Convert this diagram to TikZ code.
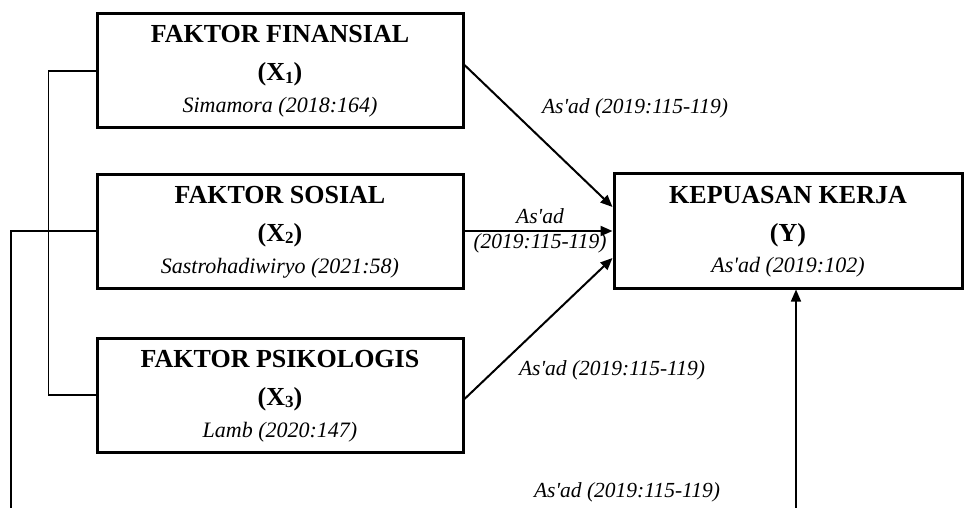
\documentclass[tikz,border=0pt]{standalone}
\usepackage{fontspec}
\setmainfont{Liberation Serif}
\usetikzlibrary{arrows.meta}
\newcommand{\subidx}[1]{\raisebox{-2.5pt}{\fontsize{17}{17}\selectfont #1}}
\newcommand{\apo}{\textquotesingle}
\tikzset{
  box/.style={draw, line width=3pt, minimum width=366pt, minimum height=114pt, inner sep=0pt},
  ttl/.style={font=\fontsize{26}{30}\selectfont\bfseries, anchor=base, inner sep=0pt},
  cit/.style={font=\fontsize{22}{26}\selectfont\itshape, anchor=base, inner sep=0pt},
  lbl/.style={font=\fontsize{21.5}{25}\selectfont\itshape, inner sep=0pt, align=center},
  conn/.style={line width=2pt, -{Triangle[length=12pt,width=10pt]}},
  thin/.style={line width=1.4pt}
}
\begin{document}
\begin{tikzpicture}[x=1pt,y=-1pt]
\useasboundingbox (0,0) rectangle (966,508);
% boxes
\node[box] (x1) at (280,71) {};
\node[box] (x2) at (280,231) {};
\node[box] (x3) at (280,395) {};
\node[box, minimum width=348pt, minimum height=115pt] (y) at (788,230.5) {};
% texts
\node[ttl] (x1a) at (280,43) {FAKTOR FINANSIAL};
\node[ttl] (x1b) at (280,81) {(X\subidx{1})};
\node[cit] (x1c) at (280,113) {Simamora (2018:164)};
\node[ttl] (x2a) at (280,203) {FAKTOR SOSIAL};
\node[ttl] (x2b) at (280,241) {(X\subidx{2})};
\node[cit] (x2c) at (280,273) {Sastrohadiwiryo (2021:58)};
\node[ttl] (x3a) at (280,367) {FAKTOR PSIKOLOGIS};
\node[ttl] (x3b) at (280,405) {(X\subidx{3})};
\node[cit] (x3c) at (280,437) {Lamb (2020:147)};
\node[ttl] (ya) at (788,203) {KEPUASAN KERJA};
\node[ttl] (yb) at (788,241) {(Y)};
\node[cit] (yc) at (788,272) {As\apo ad (2019:102)};
% connectors
\draw[conn] ([yshift=6pt]x1.east) -- ([yshift=23.5pt]y.west);
\draw[conn] (x2.east) -- (x2.east -| y.west);
\draw[conn] ([yshift=-4pt]x3.east) -- ([yshift=-27.5pt]y.west);
\coordinate (bot) at (796,508);
\draw[conn, line width=1.6pt] (bot) -- (bot |- y.south);
% left brackets
\coordinate (bl) at (11,508);
\draw[thin] (x1.west) -- ++(-47,0) |- (x3.west);
\draw[thin] (x2.west) -| (bl);
% labels
\node[lbl] (l1) at (635,108) {As\apo ad (2019:115-119)};
\node[lbl] (l2) at (540,231) {As\apo ad\\(2019:115-119)};
\node[lbl] (l3) at (612,370) {As\apo ad (2019:115-119)};
\node[lbl] (l4) at (627,492) {As\apo ad (2019:115-119)};
\end{tikzpicture}
\end{document}
